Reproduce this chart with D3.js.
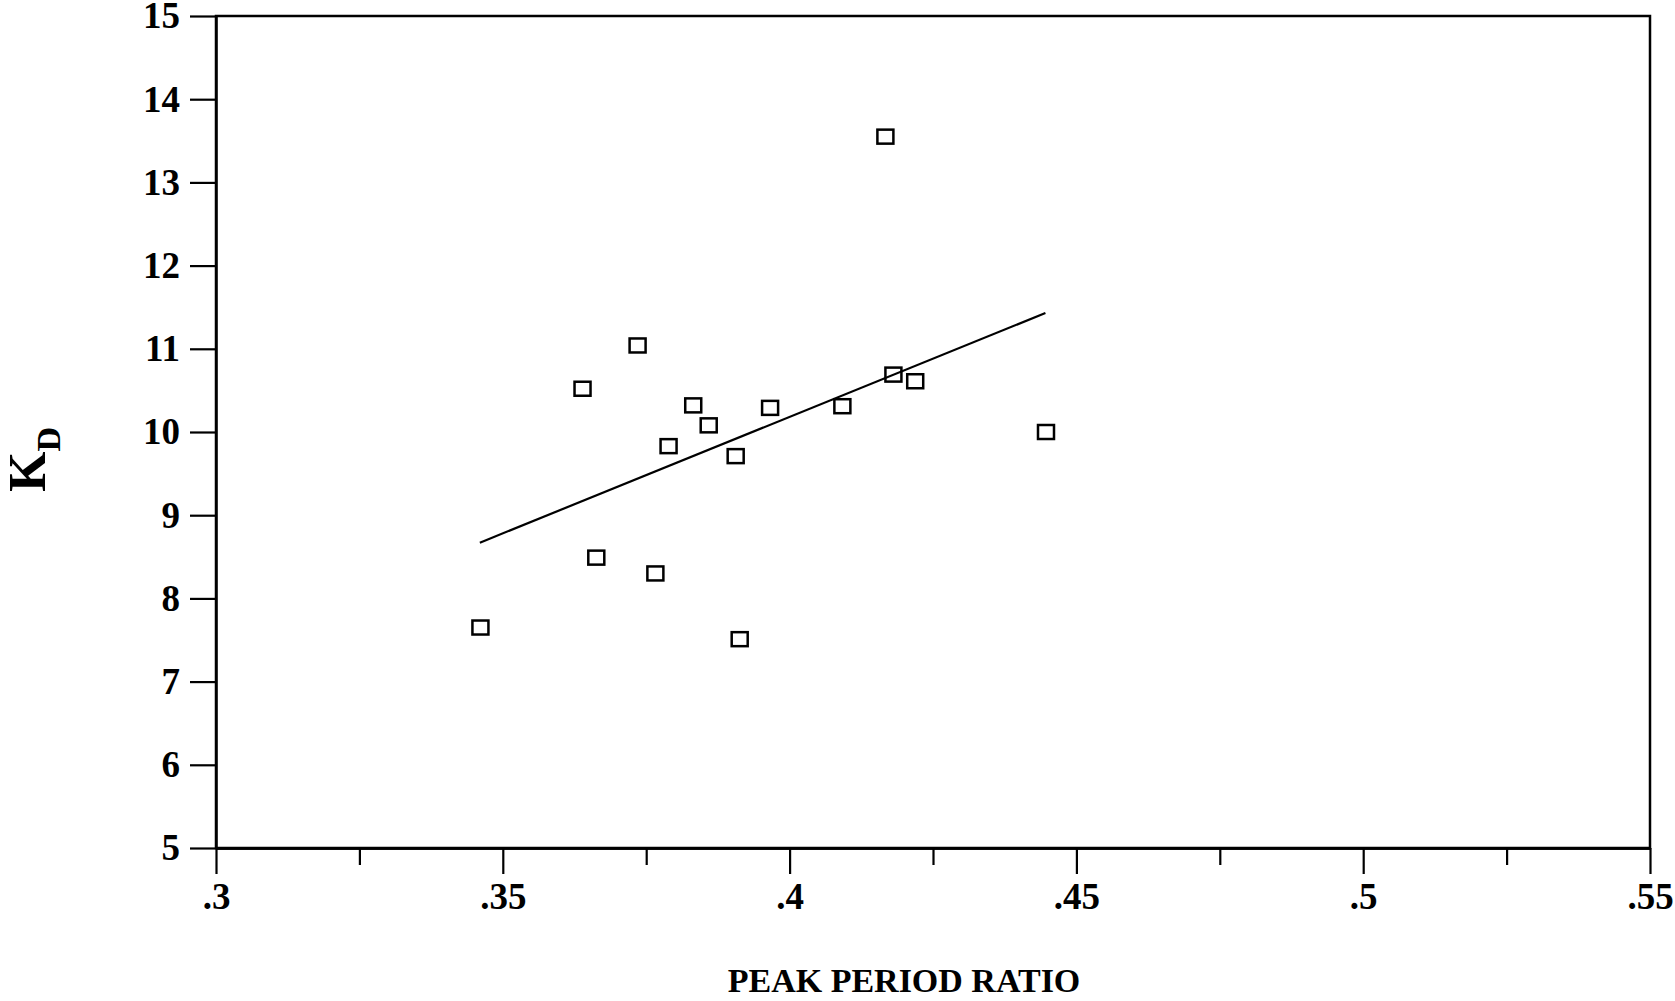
<!DOCTYPE html>
<html>
<head>
<meta charset="utf-8">
<script src="https://cdn.jsdelivr.net/npm/d3@7"></script>
<style>
  body { margin: 0; background: #fff; }
  svg { display: block; }
</style>
</head>
<body>
<div id="chart"></div>
<script>
var margin = {"top": 16, "right": 25, "bottom": 153, "left": 216};
var width = 1675;
var height = 1001;

// data
var ratio = [0.3461, 0.3639, 0.3663, 0.3735, 0.3766, 0.3789, 0.3832, 0.3859,
             0.3906, 0.3913, 0.3966, 0.4092, 0.4167, 0.4181, 0.4219, 0.4447];
var kd    = [7.65, 10.52, 8.49, 11.04, 8.30, 9.83, 10.32, 10.08,
             9.71, 7.51, 10.29, 10.31, 13.55, 10.69, 10.61, 10.00];
// fitted line end points
var fitX = [0.3460, 0.4446];
var fitY = [8.67, 11.43];

var xMajor = [0.3, 0.35, 0.4, 0.45, 0.5, 0.55];
var xMajorLabels = [".3", ".35", ".4", ".45", ".5", ".55"];
var xMinor = [0.325, 0.375, 0.425, 0.475, 0.525];
var yTicks = [5, 6, 7, 8, 9, 10, 11, 12, 13, 14, 15];

var svg = d3.select("#chart").append("svg")
    .attr("width", width)
    .attr("height", height);

// scales
var xScale = d3.scaleLinear()
    .domain([0.3, 0.55])
    .range([margin.left, width - margin.right]);
var yScale = d3.scaleLinear()
    .domain([5, 15])
    .range([height - margin.bottom, margin.top]);

// frame
svg.append("rect")
    .attr("x", xScale(0.3))
    .attr("y", yScale(15))
    .attr("width", xScale(0.55) - xScale(0.3))
    .attr("height", yScale(5) - yScale(15))
    .attr("fill", "none")
    .attr("stroke", "#000")
    .attr("stroke-width", 2.5);

// axes
var xAxis = d3.axisBottom(xScale)
    .tickValues(xMajor)
    .tickFormat(function(d, i){ return xMajorLabels[i]; })
    .tickSize(26)
    .tickSizeOuter(0)
    .tickPadding(9);
var xAxisMinor = d3.axisBottom(xScale)
    .tickValues(xMinor)
    .tickFormat("")
    .tickSize(17)
    .tickSizeOuter(0);
var yAxis = d3.axisLeft(yScale)
    .tickValues(yTicks)
    .tickFormat(d3.format("d"))
    .tickSize(26)
    .tickSizeOuter(0)
    .tickPadding(10);

svg.append("g")
    .attr("transform", "translate(" + [0, height - margin.bottom] + ")")
    .call(xAxis);
svg.append("g")
    .attr("transform", "translate(" + [0, height - margin.bottom] + ")")
    .call(xAxisMinor);
svg.append("g")
    .attr("transform", "translate(" + [margin.left, 0] + ")")
    .call(yAxis);

svg.selectAll(".domain").attr("stroke-width", 2.5);
svg.selectAll(".tick line").attr("stroke-width", 2.2);
svg.selectAll(".tick text")
    .attr("font-family", "'Liberation Serif', serif")
    .attr("font-weight", "bold")
    .attr("font-size", 37)
    .attr("fill", "#000");

// fit line
var fit = fitX.map(function(d, i){ return [d, fitY[i]]; });
svg.append("path")
    .datum(fit)
    .attr("d", d3.line()
        .x(function(d){ return xScale(d[0]); })
        .y(function(d){ return yScale(d[1]); }))
    .attr("fill", "none")
    .attr("stroke", "#000")
    .attr("stroke-width", 2.2);

// points
var boxW = 16, boxH = 14;
svg.selectAll("rect.pt")
    .data(ratio)
    .enter().append("rect")
    .attr("class", "pt")
    .attr("x", function(d){ return xScale(d) - boxW / 2; })
    .attr("y", function(d, i){ return yScale(kd[i]) - boxH / 2; })
    .attr("width", boxW)
    .attr("height", boxH)
    .attr("fill", "none")
    .attr("stroke", "#000")
    .attr("stroke-width", 2.5);

// axis titles
svg.append("text")
    .attr("x", 904)
    .attr("y", 992)
    .attr("text-anchor", "middle")
    .attr("font-family", "'Liberation Serif', serif")
    .attr("font-weight", "bold")
    .attr("font-size", 34)
    .text("PEAK PERIOD RATIO");

var yt = svg.append("text")
    .attr("transform", "translate(45,492) rotate(-90)")
    .attr("font-family", "'Liberation Serif', serif")
    .attr("font-weight", "bold");
yt.append("tspan").attr("font-size", 52).text("K");
yt.append("tspan").attr("font-size", 34).attr("dy", 15).text("D");
</script>
</body>
</html>
